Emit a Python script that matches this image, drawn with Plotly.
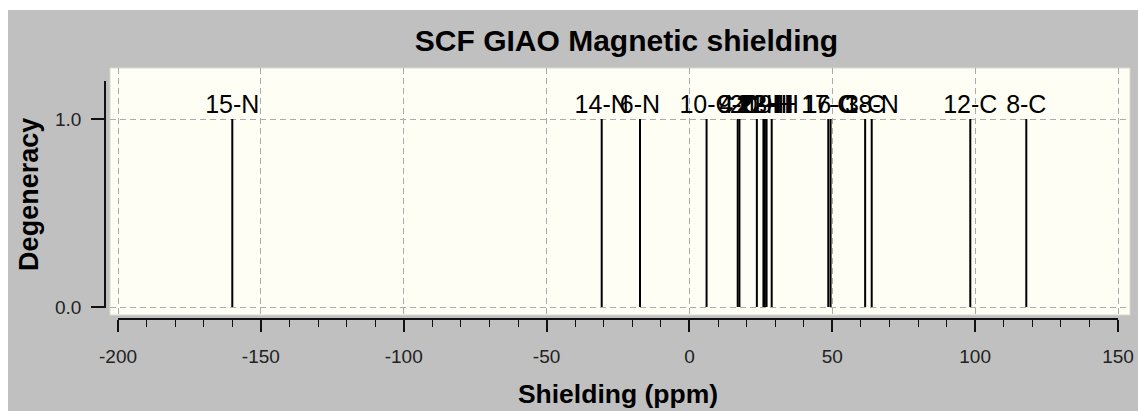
import plotly.graph_objects as go

# ---- data ----
shielding = [-160.0, -30.7, -17.3, 6.0, 16.9, 17.5, 23.6, 25.9, 26.4, 27.0, 28.8,
             48.6, 49.4, 61.5, 63.8, 98.3, 117.9]
degeneracy = [1, 1, 1, 1, 1, 1, 1, 1, 1, 1, 1, 1, 1, 1, 1, 1, 1]
atom_labels = ["15-N", "14-N", "6-N", "10-C", "9-C", "4-C", "20-H", "21-H", "22-H",
               "23-H", "19-H", "17-C", "16-C", "3-C", "18-N", "12-C", "8-C"]
x_ticks = [-200, -150, -100, -50, 0, 50, 100, 150]
y_ticks = [0.0, 1.0]

# ---- layout geometry ----
W, H = 1138, 411
ML, MR, MT, MB = 105, 8, 68, 92
PW, PH = W - ML - MR, H - MT - MB
FONT = "Liberation Sans, Arial, Helvetica, sans-serif"


def fx(p):
    return (p - ML) / PW


def fy(p):
    return (H - MB - p) / PH


xs = 1000 / 350.0   # px per ppm
ys = 188.0          # px per degeneracy unit

stem_x, stem_y = [], []
for v, d in zip(shielding, degeneracy):
    stem_x += [v, v, None]
    stem_y += [0, d, None]

fig = go.Figure()
fig.add_trace(go.Scatter(x=stem_x, y=stem_y, mode="lines",
                         line=dict(color="black", width=2),
                         hoverinfo="skip", showlegend=False))
fig.add_trace(go.Scatter(x=shielding, y=degeneracy, mode="text", text=atom_labels,
                         textposition="top center",
                         textfont=dict(family=FONT, size=25, color="black"),
                         hoverinfo="skip", showlegend=False, cliponaxis=False))
fig.add_trace(go.Scatter(x=[None], y=[None], xaxis="x2", yaxis="y2",
                         showlegend=False, hoverinfo="skip"))

grid = dict(showgrid=True, gridcolor="#ababab", gridwidth=1, griddash="6px,4px",
            zeroline=False, showline=False, showticklabels=False, ticks="",
            automargin=False)

fig.update_layout(
    width=W, height=H,
    margin=dict(l=ML, r=MR, t=MT, b=MB, pad=0, autoexpand=False),
    paper_bgcolor="white",
    plot_bgcolor="rgba(0,0,0,0)",
    font=dict(family=FONT, color="black"),
    title=dict(text="SCF GIAO Magnetic shielding", xref="container", yref="container",
               x=626.5 / W, y=1 - 40 / H, xanchor="center", yanchor="middle",
               automargin=False,
               font=dict(family=FONT, size=30, color="black", weight="bold")),
    xaxis=dict(domain=[fx(110), 1.0],
               range=[-200 - 8 / xs, 150 + 12 / xs],
               tickvals=x_ticks, **grid),
    yaxis=dict(domain=[fy(315), 1.0],
               range=[-8 / ys, 1 + 51 / ys],
               tickvals=y_ticks, **grid),
    xaxis2=dict(domain=[fx(118), fx(1118)], range=[-200, 150],
                anchor="free", position=0, showgrid=False, zeroline=False,
                automargin=False, ticklabeloverflow="allow",
                showline=True, linecolor="#111", linewidth=1.5,
                tickvals=x_ticks, ticktext=[str(t) for t in x_ticks],
                ticks="outside", ticklen=12, tickwidth=1.5, tickcolor="#111",
                minor=dict(dtick=10, tick0=0, ticks="outside", ticklen=7,
                           tickwidth=1.3, tickcolor="#111", showgrid=False),
                tickfont=dict(family=FONT, size=19, color="#222"),
                ticklabelstandoff=8,
                title=dict(text="Shielding (ppm)", standoff=18,
                           font=dict(family=FONT, size=26.5, color="black", weight="bold"))),
    yaxis2=dict(domain=[fy(308), fy(80.7)], range=[-1 / ys, 1 + 38.3 / ys],
                anchor="free", position=0, showgrid=False, zeroline=False,
                automargin=False, ticklabeloverflow="allow",
                showline=True, linecolor="#111", linewidth=1.5,
                tickvals=y_ticks, ticktext=["%.1f" % t for t in y_ticks],
                ticks="outside", ticklen=13, tickwidth=1.5, tickcolor="#111",
                tickfont=dict(family=FONT, size=19, color="#222"),
                ticklabelstandoff=6,
                title=dict(text="Degeneracy", standoff=8,
                           font=dict(family=FONT, size=27, color="black", weight="bold"))),
    shapes=[
        dict(type="rect", xref="paper", yref="paper", layer="below",
             x0=fx(8), x1=fx(W + 5), y0=fy(H + 5), y1=fy(10),
             fillcolor="#c0c0c0", line=dict(width=0)),
        dict(type="rect", xref="paper", yref="paper", layer="below",
             x0=fx(110), x1=fx(1130), y0=fy(315), y1=fy(68),
             fillcolor="#fefef4", line=dict(color="#d8d8d0", width=1)),
    ],
)

fig.write_html("out.html")
